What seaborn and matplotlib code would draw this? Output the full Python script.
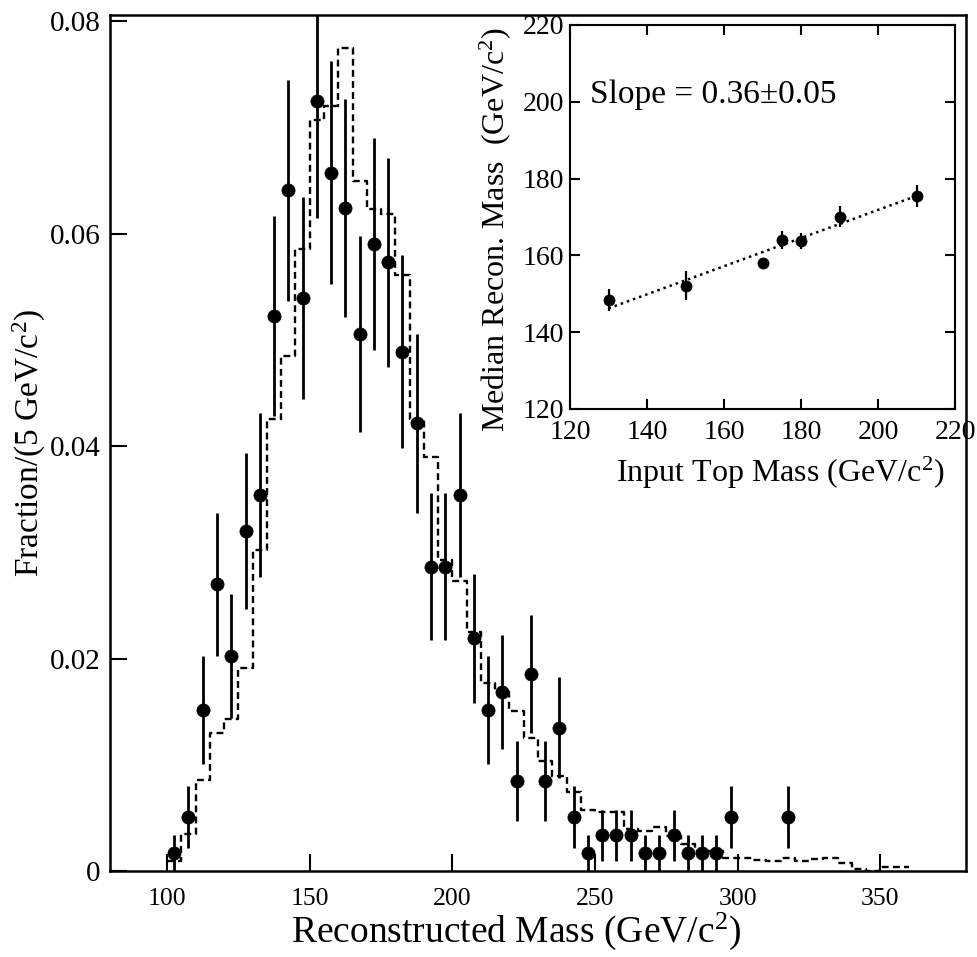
import numpy as np
import pandas as pd
import matplotlib
matplotlib.use("Agg")
import matplotlib.pyplot as plt
import seaborn as sns

# ---------------- data: main histogram ----------------
data_mass = [102.5, 107.5, 112.5, 117.5, 122.5, 127.5, 132.5, 137.5, 142.5, 147.5,
             152.5, 157.5, 162.5, 167.5, 172.5, 177.5, 182.5, 187.5, 192.5, 197.5,
             202.5, 207.5, 212.5, 217.5, 222.5, 227.5, 232.5, 237.5, 242.5, 247.5,
             252.5, 257.5, 262.5, 267.5, 272.5, 277.5, 282.5, 287.5, 292.5, 297.5,
             317.5]
data_counts = [1, 3, 9, 16, 12, 19, 21, 31, 38, 32,
               43, 39, 37, 30, 35, 34, 29, 25, 17, 17,
               21, 13, 9, 10, 5, 11, 5, 8, 3, 1,
               2, 2, 2, 1, 1, 2, 1, 1, 1, 3,
               3]
n_events = 593

template_edges = [100, 105, 110, 115, 120, 125, 130, 135, 140, 145, 150, 155, 160,
                  165, 170, 175, 180, 185, 190, 195, 200, 205, 210, 215, 220, 225,
                  230, 235, 240, 245, 250, 255, 260, 265, 270, 275, 280, 285, 290,
                  295, 300, 305, 310, 315, 320, 325, 330, 335, 340, 345, 350, 355, 360]
template_frac = [0.0009, 0.0035, 0.0086, 0.0130, 0.0143, 0.0191, 0.0302, 0.0426,
                 0.0485, 0.0586, 0.0707, 0.0720, 0.0775, 0.0650, 0.0623, 0.0619,
                 0.0561, 0.0426, 0.0390, 0.0293, 0.0273, 0.0225, 0.0177, 0.0170,
                 0.0151, 0.0125, 0.0104, 0.0089, 0.0074, 0.0057, 0.0056, 0.0056,
                 0.0040, 0.0038, 0.0041, 0.0033, 0.0025, 0.0019, 0.0019, 0.0012,
                 0.0012, 0.0010, 0.0009, 0.0012, 0.0009, 0.0011, 0.0012, 0.0008,
                 0.0002, 0.0000, 0.0004, 0.0004]

main_xticks = [100, 150, 200, 250, 300, 350]
main_yticks = [0, 0.02, 0.04, 0.06, 0.08]
main_yticklabels = ["0", "0.02", "0.04", "0.06", "0.08"]

# ---------------- data: inset ----------------
input_mass = [130, 150, 170, 175, 180, 190, 210]
median_mass = [148.4, 152.1, 157.9, 164.0, 163.8, 170.1, 175.5]
median_err = [2.9, 3.8, 1.3, 2.3, 2.1, 2.8, 2.8]
fit_x = [130, 210]
fit_y = [146.2, 175.5]
inset_ticks = [120, 140, 160, 180, 200, 220]

# ---------------- style ----------------
sns.set_theme(style="ticks")
serif = ["Liberation Serif", "DejaVu Serif"]
plt.rcParams["font.family"] = serif
plt.rcParams["mathtext.fontset"] = "custom"
plt.rcParams["mathtext.rm"] = "Liberation Serif"
plt.rcParams["mathtext.it"] = "Liberation Serif:italic"
plt.rcParams["axes.unicode_minus"] = False

fig = plt.figure(figsize=(9.77, 9.57), dpi=100)
fig.patch.set_facecolor("white")

W, H = 977, 957
ax = fig.add_axes([110 / W, 1 - 871 / H, (966 - 110) / W, (871 - 15) / H])
ax.set_facecolor("white")

df_data = pd.DataFrame({"mass": data_mass, "count": data_counts})
df_data["frac"] = df_data["count"] / n_events
df_data["err"] = np.sqrt(df_data["count"]) / n_events

centers = [(a + b) / 2 for a, b in zip(template_edges[:-1], template_edges[1:])]
df_tmpl = pd.DataFrame({"mass": centers, "frac": template_frac})

sns.histplot(data=df_tmpl, x="mass", weights="frac", bins=list(template_edges),
             element="step", fill=False, color="black", linestyle=(0, (2.9, 1.8)),
             linewidth=1.7, ax=ax, zorder=2)

ax.errorbar(df_data["mass"], df_data["frac"], yerr=df_data["err"], fmt="none",
            ecolor="black", elinewidth=2.0, capsize=0, zorder=3)
sns.scatterplot(data=df_data, x="mass", y="frac", color="black", s=90,
                marker="o", edgecolor="black", linewidth=0.5, ax=ax, zorder=4)

ax.set_xlim(80, 380)
ax.set_ylim(0, 0.0806)
ax.set_xticks(main_xticks)
ax.set_xticklabels([str(t) for t in main_xticks])
ax.set_yticks(main_yticks)
ax.set_yticklabels(main_yticklabels)
ax.tick_params(axis="both", direction="in", length=12, width=1.5, colors="black",
               top=False, right=False)
ax.tick_params(axis="x", labelsize=18.5, pad=12)
ax.tick_params(axis="y", labelsize=21, pad=7)
for s in ax.spines.values():
    s.set_visible(True)
    s.set_linewidth(1.8)
    s.set_color("black")

ax.set_xlabel(r"Reconstructed Mass (GeV/c$^{2}$)", fontsize=27, color="black")
ax.set_ylabel(r"Fraction/(5 GeV/c$^{2}$)", fontsize=24, color="black")
ax.xaxis.set_label_coords(0.474, -0.046)
ax.yaxis.set_label_coords(-0.073, 0.5)

# ---------------- inset ----------------
axi = fig.add_axes([570 / W, 1 - 409 / H, (955 - 570) / W, (409 - 25) / H])
axi.set_facecolor("white")
df_in = pd.DataFrame({"input": input_mass, "median": median_mass, "err": median_err})
df_fit = pd.DataFrame({"x": fit_x, "y": fit_y})

sns.lineplot(data=df_fit, x="x", y="y", color="black", linestyle=(0, (1, 1.6)),
             linewidth=1.8, ax=axi, zorder=2)
axi.errorbar(df_in["input"], df_in["median"], yerr=df_in["err"], fmt="none",
             ecolor="black", elinewidth=1.6, capsize=0, zorder=3)
sns.scatterplot(data=df_in, x="input", y="median", color="black", s=64,
                marker="o", edgecolor="black", linewidth=0.5, ax=axi, zorder=4)

axi.set_xlim(120, 220)
axi.set_ylim(120, 220)
axi.set_xticks(inset_ticks)
axi.set_yticks(inset_ticks)
axi.tick_params(axis="both", direction="in", length=7, width=1.5, colors="black",
                top=True, right=True, labelsize=20)
axi.tick_params(axis="x", pad=8)
axi.tick_params(axis="y", pad=4)
for s in axi.spines.values():
    s.set_visible(True)
    s.set_linewidth(1.5)
    s.set_color("black")

axi.set_xlabel(r"Input Top Mass (GeV/c$^{2}$)", fontsize=23, color="black")
axi.set_ylabel(r"Median Recon. Mass  (GeV/c$^{2}$)", fontsize=23, color="black")
axi.xaxis.set_label_coords(0.545, -0.12)
axi.yaxis.set_label_coords(-0.148, 0.466)

axi.text(125.2, 199.7, "Slope = 0.36\u00b10.05", fontsize=24, ha="left",
         va="baseline", color="black")

fig.savefig("out.png", dpi=100, facecolor="white")
